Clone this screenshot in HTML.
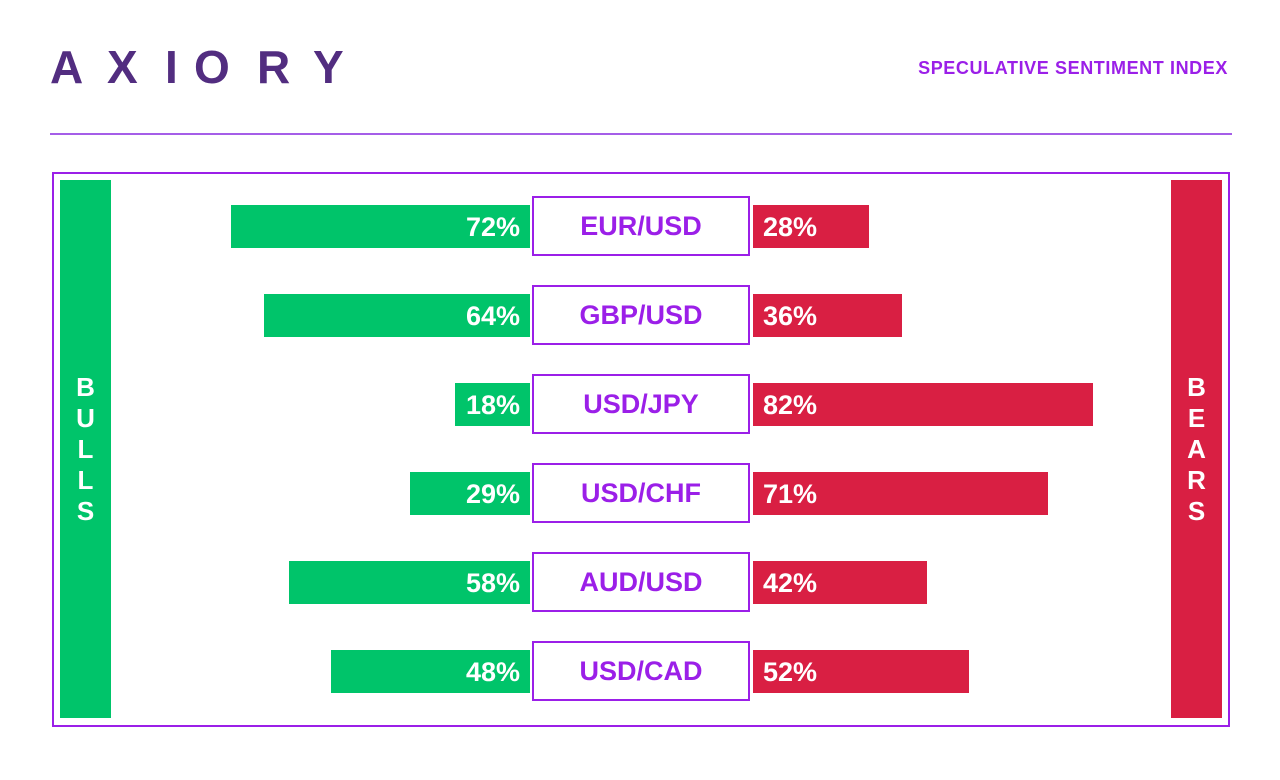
<!DOCTYPE html>
<html><head><meta charset="utf-8"><style>
body{margin:0;background:#fff;font-family:"Liberation Sans",sans-serif;}
#c{position:relative;width:1280px;height:780px;overflow:hidden;}
.abs{position:absolute;}
.lg{top:44px;font-size:46px;font-weight:bold;color:#522d80;line-height:46px;}
.title{right:52px;top:58px;font-size:18px;font-weight:bold;color:#9b1fe8;letter-spacing:0.6px;}
.rule{left:50px;top:133px;width:1182px;height:2px;background:#a55ee8;}
.frame{left:52px;top:172px;width:1174px;height:551px;border:2px solid #9b1fe8;}
.side{top:180px;width:51px;height:538px;color:#fff;font-weight:bold;font-size:26px;display:flex;flex-direction:column;align-items:center;justify-content:center;line-height:31px;}
.bar{height:43px;color:#fff;font-weight:bold;font-size:27px;line-height:45px;box-sizing:border-box;}
.g{background:#00c46a;text-align:right;padding-right:10px;}
.r{background:#d91f43;text-align:left;padding-left:10px;}
.lab{left:532px;width:218px;height:60px;box-sizing:border-box;border:2px solid #9b1fe8;color:#9b1fe8;font-weight:bold;font-size:27px;text-align:center;line-height:57px;background:#fff;}
</style></head><body>
<div id="c">
<div class="abs">
<span class="abs lg" style="left:50px">A</span><span class="abs lg" style="left:107px">X</span><span class="abs lg" style="left:165px">I</span><span class="abs lg" style="left:194px">O</span><span class="abs lg" style="left:257px">R</span><span class="abs lg" style="left:313px">Y</span>
</div>
<div class="abs title">SPECULATIVE SENTIMENT INDEX</div>
<div class="abs rule"></div>
<div class="abs frame"></div>
<div class="abs side" style="left:60px;background:#00c46a"><span>B</span><span>U</span><span>L</span><span>L</span><span>S</span></div>
<div class="abs side" style="left:1171px;background:#d91f43"><span>B</span><span>E</span><span>A</span><span>R</span><span>S</span></div>
</div>
<script>
const pairs=["EUR/USD","GBP/USD","USD/JPY","USD/CHF","AUD/USD","USD/CAD"];
const bulls=[72,64,18,29,58,48];
const bears=[28,36,82,71,42,52];
const c=document.getElementById('c');
const pxPer=4.15, rowTop=205, rowStep=89, gRight=530, rLeft=753;
function w(v){return v*pxPer;}
pairs.forEach((p,i)=>{
  const y=rowTop+i*rowStep;
  const g=document.createElement('div');
  g.className='abs bar g';
  g.style.left=(gRight-w(bulls[i]))+'px';g.style.width=w(bulls[i])+'px';g.style.top=y+'px';
  g.textContent=bulls[i]+'%';
  
  
  c.appendChild(g);
  const r=document.createElement('div');
  r.className='abs bar r';
  r.style.left=rLeft+'px';r.style.width=w(bears[i])+'px';r.style.top=y+'px';
  r.textContent=bears[i]+'%';
  
  
  c.appendChild(r);
  const l=document.createElement('div');
  l.className='abs lab';
  l.style.top=(y-9)+'px';
  l.textContent=p;
  
  
  c.appendChild(l);
});
</script>
</body></html>
